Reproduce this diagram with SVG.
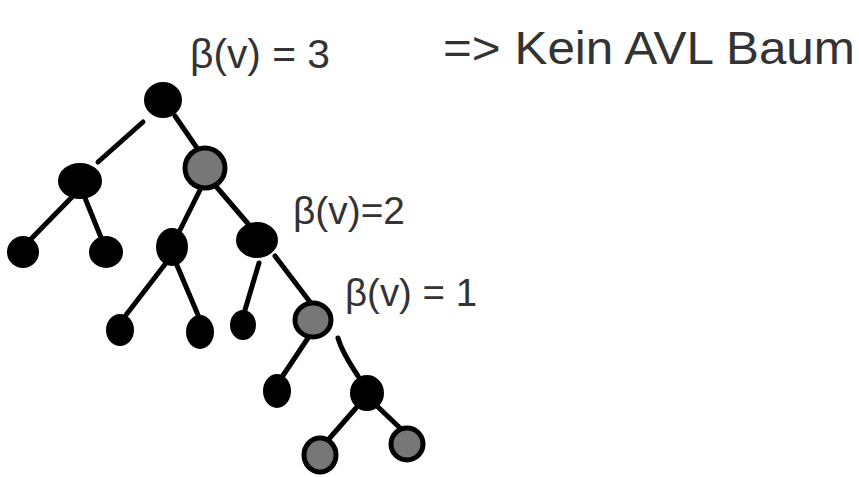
<svg xmlns="http://www.w3.org/2000/svg" width="859" height="477" viewBox="0 0 859 477">
<style>
.e{stroke:#000;stroke-width:5;stroke-linecap:round;fill:none}
.b{fill:#000;stroke:#000;stroke-width:4}
.g{fill:#777;stroke:#000;stroke-width:5}
.t{font-family:"Liberation Sans",Arial,sans-serif;fill:#333}
</style>
<rect width="859" height="477" fill="#fff"/>
<g id="connectors">
<line class="e" x1="143" y1="122" x2="98" y2="162"/>
<line class="e" x1="175" y1="116" x2="197" y2="148"/>
<line class="e" x1="72" y1="197" x2="30" y2="240"/>
<line class="e" x1="85" y1="198" x2="102" y2="240"/>
<line class="e" x1="202" y1="186" x2="180" y2="230"/>
<line class="e" x1="214" y1="184" x2="250" y2="226"/>
<line class="e" x1="166" y1="263" x2="126" y2="315"/>
<line class="e" x1="176" y1="263" x2="198" y2="315"/>
<line class="e" x1="259" y1="263" x2="245" y2="310"/>
<line class="e" x1="275" y1="256" x2="310" y2="302"/>
<line class="e" x1="308" y1="338" x2="282" y2="377"/>
<path class="e" d="M338 338 Q342 352 358 376"/>
<line class="e" x1="356" y1="408" x2="328" y2="440"/>
<line class="e" x1="377" y1="406" x2="400" y2="428"/>
</g>
<g id="n1"><ellipse class="b" cx="163" cy="100" rx="17" ry="16"/></g>
<g id="n2"><ellipse class="b" cx="80" cy="181" rx="20" ry="16"/></g>
<g id="n3"><ellipse class="g" cx="205" cy="168" rx="20" ry="20"/></g>
<g id="n4"><ellipse class="b" cx="23" cy="252" rx="14" ry="14"/></g>
<g id="n5"><ellipse class="b" cx="106" cy="252" rx="15" ry="14"/></g>
<g id="n6"><ellipse class="b" cx="172" cy="247" rx="14" ry="17"/></g>
<g id="n7"><ellipse class="b" cx="257" cy="240" rx="19" ry="16"/></g>
<g id="n8"><ellipse class="b" cx="120" cy="330" rx="12" ry="14"/></g>
<g id="n9"><ellipse class="b" cx="200" cy="332" rx="12" ry="15"/></g>
<g id="n10"><ellipse class="b" cx="243" cy="325" rx="11" ry="13"/></g>
<g id="n11"><ellipse class="g" cx="313" cy="320" rx="18" ry="17"/></g>
<g id="n12"><ellipse class="b" cx="277" cy="391" rx="12" ry="15"/></g>
<g id="n13"><ellipse class="b" cx="367" cy="393" rx="15" ry="16"/></g>
<g id="n14"><ellipse class="g" cx="320" cy="455" rx="16" ry="17"/></g>
<g id="n15"><ellipse class="g" cx="407" cy="444" rx="16" ry="16"/></g>
<g id="labels">
<text class="t" x="190" y="68" font-size="40" textLength="140" lengthAdjust="spacingAndGlyphs">β(v) = 3</text>
<text class="t" x="443" y="64" font-size="46" textLength="412" lengthAdjust="spacingAndGlyphs">=&gt; Kein AVL Baum</text>
<text class="t" x="293" y="224" font-size="38" textLength="112" lengthAdjust="spacingAndGlyphs">β(v)=2</text>
<text class="t" x="345" y="306" font-size="38" textLength="132" lengthAdjust="spacingAndGlyphs">β(v) = 1</text>
</g>
</svg>
